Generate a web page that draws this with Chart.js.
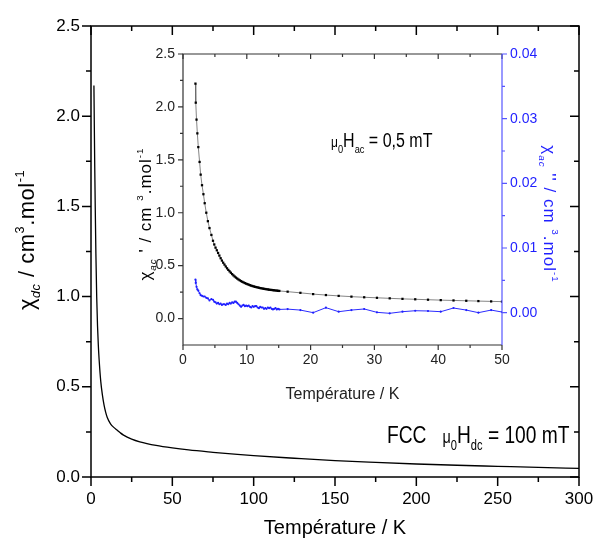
<!DOCTYPE html>
<html>
<head>
<meta charset="utf-8">
<script src="https://cdn.jsdelivr.net/npm/chart.js@4.4.1/dist/chart.umd.min.js"></script>
<style>
  body { margin: 0; background: #fff; }
  #wrap { position: relative; width: 593px; height: 545px; }
  #mainChart { position: absolute; left: 0; top: 0; }
  #insetChart { position: absolute; left: 120px; top: 40px; }
</style>
</head>
<body>
<div id="wrap">
  <canvas id="mainChart" width="593" height="545"></canvas>
  <canvas id="insetChart" width="440" height="370"></canvas>
</div>
<script>
// chi_dc vs T (100 mT)
const tDc = [1.8, 2.0, 2.3, 2.6, 3.0, 3.5, 4, 4.5, 5, 6, 7, 8, 9, 10, 12, 14, 16, 18, 20, 25, 30, 40, 50, 60, 75, 90, 100, 125, 150, 175, 200, 225, 250, 275, 300];
const chiDc = [2.17, 1.98, 1.72, 1.50, 1.24, 1.00, 0.84, 0.73, 0.65, 0.53, 0.455, 0.40, 0.36, 0.33, 0.295, 0.275, 0.26, 0.245, 0.232, 0.21, 0.195, 0.175, 0.161, 0.150, 0.137, 0.125, 0.118, 0.104, 0.091, 0.081, 0.072, 0.065, 0.059, 0.053, 0.048];

// inset : chi_ac' et chi_ac'' vs T (0,5 mT)
const tAc = [1.95, 2.0, 2.12, 2.25, 2.4, 2.6, 2.77, 2.98, 3.2, 3.4, 3.65, 3.9, 4.15, 4.45, 4.7, 4.9, 5.1, 5.3, 5.5, 5.7, 5.9,
  6.1, 6.3, 6.5, 6.7, 6.9, 7.1, 7.3, 7.5, 7.7, 7.9, 8.1, 8.3, 8.5, 8.7, 8.9, 9.1, 9.3, 9.5, 9.7, 9.9,
  10.1, 10.3, 10.5, 10.7, 10.9, 11.1, 11.3, 11.5, 11.7, 11.9, 12.1, 12.3, 12.5, 12.7, 12.9, 13.1, 13.3, 13.5, 13.7, 13.9,
  14.1, 14.3, 14.5, 14.7, 14.9, 15.1,
  16.4, 18.4, 20.4, 22.4, 24.4, 26.4, 28.4, 30.4, 32.4, 34.4, 36.4, 38.4, 40.4, 42.4, 44.4, 46.3, 48.3, 50.0];
const chiAcReal = [2.22, 2.04, 1.88, 1.75, 1.62, 1.48, 1.36, 1.26, 1.175, 1.09, 1.00, 0.92, 0.855, 0.79, 0.735, 0.70, 0.67, 0.645, 0.62, 0.595, 0.57,
  0.548, 0.528, 0.51, 0.492, 0.475, 0.46, 0.446, 0.433, 0.42, 0.408, 0.397, 0.387, 0.378, 0.369, 0.361, 0.354, 0.347, 0.341, 0.335, 0.33,
  0.325, 0.32, 0.315, 0.311, 0.307, 0.303, 0.30, 0.297, 0.294, 0.291, 0.288, 0.286, 0.283, 0.281, 0.279, 0.277, 0.275, 0.273, 0.271, 0.27,
  0.268, 0.267, 0.265, 0.264, 0.262, 0.261,
  0.254, 0.243, 0.231, 0.222, 0.214, 0.207, 0.201, 0.196, 0.191, 0.186, 0.182, 0.178, 0.174, 0.171, 0.168, 0.165, 0.162, 0.160];
const chiAcImag = [0.0051, 0.0046, 0.0040, 0.0036, 0.0034, 0.0030, 0.0027, 0.0026, 0.0025, 0.0025, 0.0023, 0.0022, 0.0019, 0.0021, 0.0020, 0.0017, 0.0016, 0.0014, 0.0015, 0.0013, 0.0014,
  0.0012, 0.0013, 0.0013, 0.0012, 0.0014, 0.0013, 0.0015, 0.0014, 0.0016, 0.0015, 0.0017, 0.0017, 0.0015, 0.0013, 0.0011, 0.0009, 0.0011, 0.0012, 0.0010, 0.0011,
  0.0010, 0.0011, 0.0009, 0.0008, 0.0010, 0.0009, 0.0010, 0.0010, 0.0008, 0.0007, 0.0009, 0.0008, 0.0008, 0.0006, 0.0007, 0.0006, 0.0008, 0.0007, 0.0008, 0.0006,
  0.0005, 0.0006, 0.0007, 0.0005, 0.0006, 0.0005,
  0.00055, 0.0004, 0.0, 0.00077, 0.00015, 0.0004, 0.00057, 0.00005, -0.0001, 0.00015, 0.0003, 0.00026, 0.00015, 0.00072, 0.0004, 0.0, 0.0004, 0.0001];

// graduations
const mainXTicks = [0, 50, 100, 150, 200, 250, 300];
const mainXMinor = [25, 75, 125, 175, 225, 275];
const mainYTicks = [0, 0.5, 1.0, 1.5, 2.0, 2.5];
const mainYMinor = [0.25, 0.75, 1.25, 1.75, 2.25];
const insetXTicks = [0, 10, 20, 30, 40, 50];
const insetXMinor = [5, 15, 25, 35, 45];
const insetYTicks = [0, 0.5, 1.0, 1.5, 2.0, 2.5];
const insetYMinor = [0.25, 0.75, 1.25, 1.75, 2.25];
const insetY2Ticks = [0, 0.01, 0.02, 0.03, 0.04];
const insetY2Minor = [0.005, 0.015, 0.025, 0.035];

const FONT = '"Liberation Sans", Arial, sans-serif';
const BLUE = '#1f1fff';

function marks(ctx, scale, vals, len, edge, dir) {
  ctx.beginPath();
  vals.forEach(v => {
    const p = scale.getPixelForValue(v);
    if (scale.isHorizontal()) { ctx.moveTo(p, edge); ctx.lineTo(p, edge + dir * len); }
    else { ctx.moveTo(edge, p); ctx.lineTo(edge + dir * len, p); }
  });
  ctx.stroke();
}

// texte avec indices / exposants
function drawRich(ctx, x, y, parts, o) {
  ctx.save();
  ctx.translate(x, y);
  if (o.rot) ctx.rotate(o.rot);
  ctx.scale(o.sx || 1, 1);
  ctx.fillStyle = o.color || '#000';
  ctx.textBaseline = 'alphabetic';
  ctx.textAlign = 'left';
  ctx.letterSpacing = (o.ls || 0) + 'px';
  const items = parts.map(([t, k, it]) => {
    let s = o.size, dy = 0;
    if (k === 'sub') { s = o.size * 0.58; dy = o.size * 0.28; }
    if (k === 'sup') { s = o.size * 0.58; dy = -o.size * 0.45; }
    if (k === 'small') { s = o.size * 0.75; }
    const font = (it ? 'italic ' : '') + s + 'px ' + FONT;
    ctx.font = font;
    return { t, font, dy, w: ctx.measureText(t).width };
  });
  const total = items.reduce((a, b) => a + b.w, 0);
  let cx = o.align === 'left' ? 0 : -total / 2;
  items.forEach(i => { ctx.font = i.font; ctx.fillText(i.t, cx, i.dy); cx += i.w; });
  ctx.restore();
}

const setTicks = arr => s => { s.ticks = arr.map(v => ({ value: v })); };
const fitBox = (w, h) => s => {
  if (w) s.width = w;
  if (h) s.height = h;
  s.paddingLeft = 0; s.paddingRight = 0; s.paddingTop = 0; s.paddingBottom = 0;
};

const mainDeco = {
  id: 'mainDeco',
  afterDraw(chart) {
    const { ctx, chartArea: a, scales: { x, y } } = chart;
    ctx.save();
    ctx.strokeStyle = '#000';
    ctx.lineWidth = 1.5;
    ctx.strokeRect(a.left, a.top, a.right - a.left, a.bottom - a.top);
    marks(ctx, x, mainXTicks, 9, a.bottom, 1);
    marks(ctx, x, mainXMinor, 5, a.bottom, 1);
    marks(ctx, x, mainXTicks, 9, a.top, 1);
    marks(ctx, x, mainXMinor, 5, a.top, 1);
    marks(ctx, y, mainYTicks, 9, a.left, -1);
    marks(ctx, y, mainYMinor, 5, a.left, -1);
    marks(ctx, y, mainYTicks, 9, a.right, -1);
    marks(ctx, y, mainYMinor, 5, a.right, -1);
    ctx.restore();
    drawRich(ctx, 34, 240, [['χ', 'n'], ['dc', 'sub', true], [' / cm', 'n'], ['3', 'sup'], ['.mol', 'n'], ['-1', 'sup']],
      { rot: -Math.PI / 2, size: 22, ls: 0.5 });
    drawRich(ctx, 387, 443, [['FCC   ', 'n'], ['μ', 'small'], ['0', 'sub'], ['H', 'n'], ['dc', 'sub'], [' = 100 mT', 'n']],
      { size: 24, sx: 0.8, align: 'left' });
  }
};

new Chart(document.getElementById('mainChart'), {
  type: 'line',
  data: {
    datasets: [{
      data: tDc.map((t, i) => ({ x: t, y: chiDc[i] })),
      borderColor: '#000',
      borderWidth: 1.3,
      pointRadius: 0,
      cubicInterpolationMode: 'monotone',
      fill: false
    }]
  },
  options: {
    responsive: false,
    animation: false,
    devicePixelRatio: 1,
    layout: { padding: { left: 0, right: 14, top: 26, bottom: 0 } },
    plugins: { legend: { display: false }, tooltip: { enabled: false } },
    scales: {
      x: {
        type: 'linear', min: 0, max: 300,
        afterBuildTicks: setTicks(mainXTicks),
        afterFit: fitBox(0, 68),
        grid: { display: false, drawTicks: false },
        border: { display: false },
        ticks: { font: { family: FONT, size: 17 }, color: '#000', padding: 12, maxRotation: 0, autoSkip: false },
        title: { display: true, text: 'Température / K', font: { family: FONT, size: 20 }, color: '#000', padding: { top: 0, bottom: 5 } }
      },
      y: {
        type: 'linear', min: 0, max: 2.5,
        afterBuildTicks: setTicks(mainYTicks),
        afterFit: fitBox(91, 0),
        grid: { display: false, drawTicks: false },
        border: { display: false },
        ticks: { font: { family: FONT, size: 17 }, color: '#000', padding: 11, autoSkip: false, callback: v => v.toFixed(1) }
      }
    }
  },
  plugins: [mainDeco]
});

const insetDeco = {
  id: 'insetDeco',
  afterDraw(chart) {
    const { ctx, chartArea: a, scales: { x, y, y2 } } = chart;
    ctx.save();
    ctx.lineWidth = 1.2;
    ctx.strokeStyle = '#333';
    ctx.beginPath();
    ctx.moveTo(a.right, a.top); ctx.lineTo(a.left, a.top); ctx.lineTo(a.left, a.bottom); ctx.lineTo(a.right, a.bottom);
    ctx.stroke();
    marks(ctx, x, insetXTicks, 5, a.bottom, 1);
    marks(ctx, x, insetXMinor, 3, a.bottom, 1);
    marks(ctx, x, insetXTicks, 5, a.top, 1);
    marks(ctx, x, insetXMinor, 3, a.top, 1);
    marks(ctx, y, insetYTicks, 5, a.left, -1);
    marks(ctx, y, insetYMinor, 3, a.left, -1);
    ctx.strokeStyle = '#5555ff';
    ctx.beginPath(); ctx.moveTo(a.right, a.top); ctx.lineTo(a.right, a.bottom); ctx.stroke();
    marks(ctx, y2, insetY2Ticks, 5, a.right, 1);
    marks(ctx, y2, insetY2Minor, 3, a.right, 1);
    ctx.restore();
    drawRich(ctx, 151 - 120, 214 - 40, [['χ', 'n'], ['ac', 'sub', true], [" ' / cm ", 'n'], ['3', 'sup'], ['.mol', 'n'], ['-1', 'sup']],
      { rot: -Math.PI / 2, size: 17, ls: 1 });
    drawRich(ctx, 544 - 120, 214 - 40, [['χ', 'n'], ['ac', 'sub', true], [" '' / cm ", 'n'], ['3', 'sup'], ['.mol', 'n'], ['-1', 'sup']],
      { rot: Math.PI / 2, size: 17, ls: 1, color: BLUE });
    drawRich(ctx, 331 - 120, 147 - 40, [['μ', 'small'], ['0', 'sub'], ['H', 'n'], ['ac', 'sub'], [' = 0,5 mT', 'n']],
      { size: 20, sx: 0.8, align: 'left' });
  }
};

new Chart(document.getElementById('insetChart'), {
  type: 'line',
  data: {
    datasets: [{
      data: tAc.map((t, i) => ({ x: t, y: chiAcReal[i] })),
      yAxisID: 'y',
      borderColor: '#666',
      borderWidth: 0.8,
      pointStyle: 'rect',
      pointRadius: 1.6,
      pointBackgroundColor: '#000',
      pointBorderWidth: 0,
      tension: 0,
      fill: false
    }, {
      data: tAc.map((t, i) => ({ x: t, y: chiAcImag[i] })),
      yAxisID: 'y2',
      borderColor: '#2b2bff',
      borderWidth: 1,
      pointRadius: 1.1,
      pointBackgroundColor: BLUE,
      pointBorderWidth: 0,
      tension: 0,
      fill: false
    }]
  },
  options: {
    responsive: false,
    animation: false,
    devicePixelRatio: 1,
    layout: { padding: { left: 0, right: 0, top: 14, bottom: 0 } },
    plugins: { legend: { display: false }, tooltip: { enabled: false } },
    scales: {
      x: {
        type: 'linear', min: 0, max: 50,
        afterBuildTicks: setTicks(insetXTicks),
        afterFit: fitBox(0, 65),
        grid: { display: false, drawTicks: false },
        border: { display: false },
        ticks: { font: { family: FONT, size: 14 }, color: '#222', padding: 7, maxRotation: 0, autoSkip: false },
        title: { display: true, text: 'Température / K', font: { family: FONT, size: 16 }, color: '#222', padding: { top: 0, bottom: 6 } }
      },
      y: {
        type: 'linear', position: 'left', min: -0.25, max: 2.5,
        afterBuildTicks: setTicks(insetYTicks),
        afterFit: fitBox(63, 0),
        grid: { display: false, drawTicks: false },
        border: { display: false },
        ticks: { font: { family: FONT, size: 14 }, color: '#222', padding: 8, autoSkip: false, callback: v => v.toFixed(1) }
      },
      y2: {
        type: 'linear', position: 'right', min: -0.005, max: 0.04,
        afterBuildTicks: setTicks(insetY2Ticks),
        afterFit: fitBox(58, 0),
        grid: { display: false, drawTicks: false },
        border: { display: false },
        ticks: { font: { family: FONT, size: 14 }, color: BLUE, padding: 8, autoSkip: false, callback: v => v.toFixed(2) }
      }
    }
  },
  plugins: [insetDeco]
});
</script>
</body>
</html>
